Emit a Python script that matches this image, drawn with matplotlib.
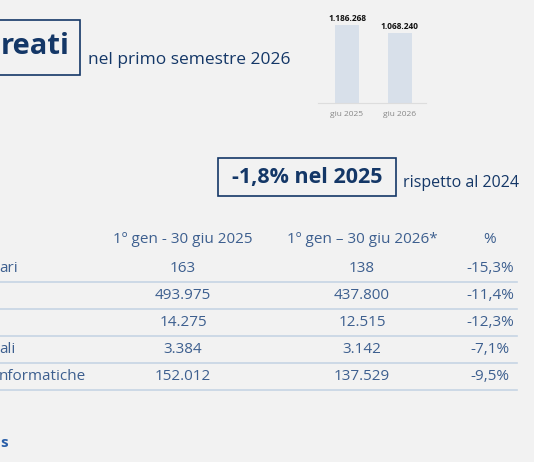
import matplotlib
matplotlib.use("Agg")
import matplotlib.pyplot as plt
from matplotlib.patches import Rectangle

plt.rcParams['font.family'] = ['Open Sans', 'DejaVu Sans']

bar_labels = ["giu 2025", "giu 2026"]
bar_values = [1186268, 1068240]
bar_texts = ["1.186.268", "1.068.240"]

headers = ["1º gen - 30 giu 2025", "1º gen – 30 giu 2026*", "%"]
row_labels = ["ari", "", "", "ali", "nformatiche"]
col2025 = ["163", "493.975", "14.275", "3.384", "152.012"]
col2026 = ["138", "437.800", "12.515", "3.142", "137.529"]
pct = ["-15,3%", "-11,4%", "-12,3%", "-7,1%", "-9,5%"]

W, H = 534, 462
BG = "#f2f2f2"
DARK = "#143767"
TXT = "#3d5f8f"
fig = plt.figure(figsize=(W/100, H/100), dpi=100, facecolor=BG)

def fx(px): return px / W
def fy(py): return 1 - py / H

# title box
fig.patches.append(Rectangle((fx(-5), fy(75)), fx(85), 55/H, transform=fig.transFigure,
                             fill=False, edgecolor=DARK, lw=1.2))
fig.text(fx(1), fy(46), "reati", fontsize=21, fontweight='bold', color=DARK, va='center', ha='left')
fig.text(fx(88), fy(60), "nel primo semestre 2026", fontsize=12.5, color=DARK, va='center', ha='left')

# inset bar chart
ax = fig.add_axes([fx(318), fy(103), (426-318)/W, 93/H])
ax.set_facecolor(BG)
ax.bar([0, 1], bar_values, width=0.45, color="#d8e0ea")
for i, (v, t) in enumerate(zip(bar_values, bar_texts)):
    ax.text(i, v + 25000, t, ha='center', va='bottom', fontsize=6, fontweight='bold', color='#111111')
ax.set_ylim(0, 1414000)
ax.set_xlim(-0.55, 1.5)
ax.set_xticks([0, 1])
ax.set_xticklabels(bar_labels, fontsize=6, color='#888888')
ax.tick_params(length=0, pad=6)
ax.set_yticks([])
for s in ['top', 'right', 'left']:
    ax.spines[s].set_visible(False)
ax.spines['bottom'].set_color('#dddddd')

# -1,8% box
fig.patches.append(Rectangle((fx(218), fy(196)), 178/W, 38/H, transform=fig.transFigure,
                             fill=False, edgecolor=DARK, lw=1.2))
fig.text(fx(307), fy(177), "-1,8% nel 2025", fontsize=15.5, fontweight='bold', color=DARK, va='center', ha='center')
fig.text(fx(403), fy(183), "rispetto al 2024", fontsize=11.5, color=DARK, va='center', ha='left')

# table
cx = [183, 362, 490]
for c, h in zip(cx, headers):
    fig.text(fx(c), fy(240), h, fontsize=11, color=TXT, ha='center', va='center')
for i in range(len(row_labels)):
    y = 268 + i * 27.2
    fig.text(fx(-1), fy(y), row_labels[i], fontsize=11, color=TXT, ha='left', va='center')
    fig.text(fx(cx[0]), fy(y), col2025[i], fontsize=11, color=TXT, ha='center', va='center')
    fig.text(fx(cx[1]), fy(y), col2026[i], fontsize=11, color=TXT, ha='center', va='center')
    fig.text(fx(cx[2]), fy(y), pct[i], fontsize=11, color=TXT, ha='center', va='center')
    ly = fy(y + 13.5)
    fig.add_artist(plt.Line2D([0, fx(517)], [ly, ly], transform=fig.transFigure, color='#c6d4e4', lw=1.2))

fig.text(fx(0), fy(443), "s", fontsize=11, fontweight='bold', color='#2a5fa8', ha='left', va='center')

fig.savefig("out.png", dpi=100, facecolor=BG)
